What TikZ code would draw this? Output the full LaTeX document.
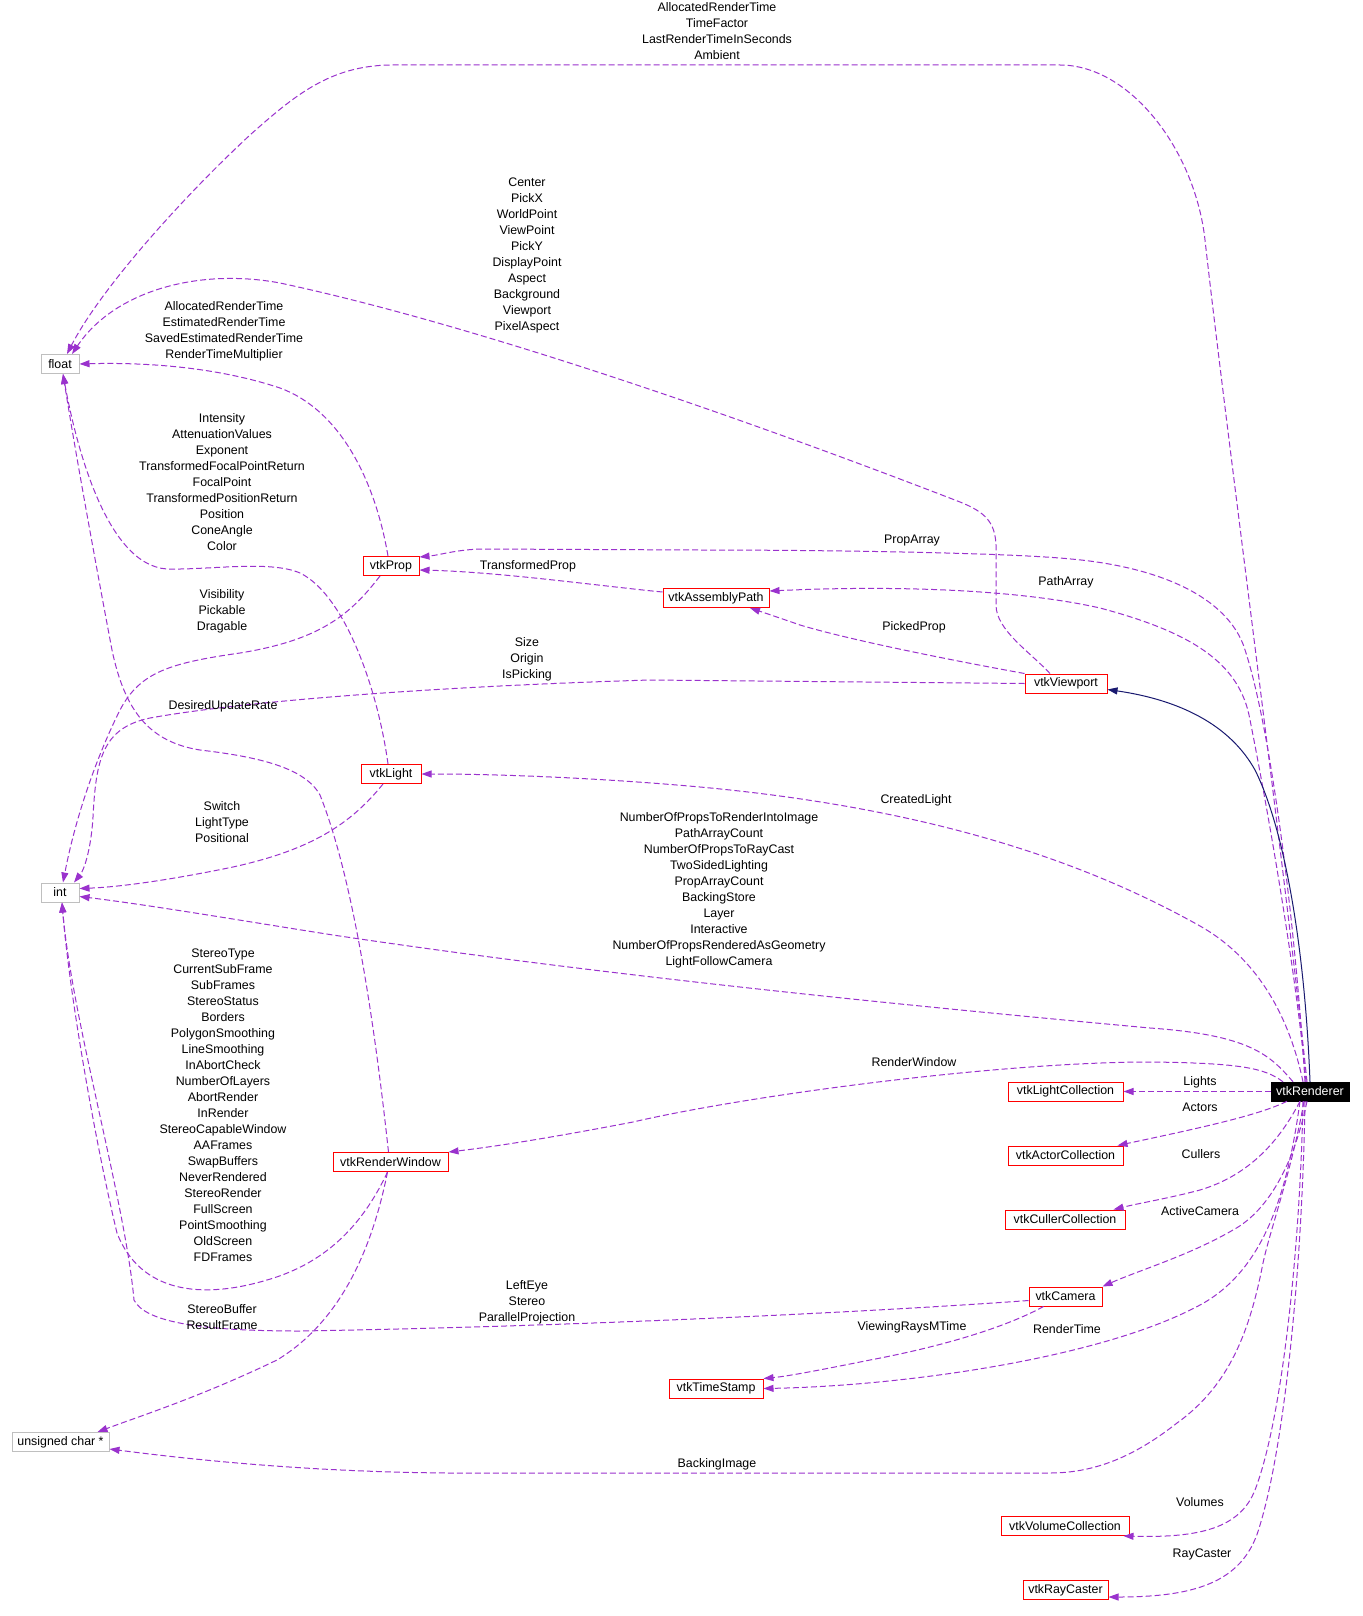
\documentclass[tikz,border=0pt]{standalone}
\usepackage{fontspec}
\setmainfont{Liberation Sans}
\usetikzlibrary{arrows.meta,calc}
\definecolor{edgec}{HTML}{9A32CD}
\definecolor{inhc}{HTML}{191970}
\definecolor{boxred}{HTML}{FF0000}
\definecolor{boxgray}{HTML}{BFBFBF}
\begin{document}
\begin{tikzpicture}[x=1pt,y=-1pt,font=\fontsize{12.4}{16}\selectfont,
  cls/.style={draw=boxred,fill=white,line width=1pt,minimum height=19pt,inner sep=0pt},
  typ/.style={draw=boxgray,fill=white,line width=1pt,minimum height=19pt,inner sep=0pt},
  rend/.style={draw=black,fill=black,text=white,minimum height=19pt,inner sep=0pt},
  lbl/.style={inner sep=0pt,align=center},
  useedge/.style={draw=edgec,line width=1pt,dash pattern=on 6pt off 3pt,-{Triangle[length=10pt,width=7pt]}},
  inhedge/.style={draw=inhc,line width=1pt,-{Triangle[length=10pt,width=7pt]}}]
\useasboundingbox[fill=white] (0,0) rectangle (1362,1616);

% nodes
\node[typ,minimum width=38pt] (fl) at (60,364) {float};
\node[typ,minimum width=38pt] (int) at (60,892.5) {int};
\node[typ,minimum width=97pt] (uc) at (60.5,1442) {unsigned char *};
\node[cls,minimum width=56pt] (P) at (391,566) {vtkProp};
\node[cls,minimum width=106pt] (AP) at (716,598) {vtkAssemblyPath};
\node[cls,minimum width=82pt] (V) at (1066,683.5) {vtkViewport};
\node[cls,minimum width=60pt] (L) at (391,774) {vtkLight};
\node[cls,minimum width=115pt] (RW) at (390.5,1162) {vtkRenderWindow};
\node[cls,minimum width=94pt] (TS) at (716,1388.5) {vtkTimeStamp};
\node[cls,minimum width=73pt] (C) at (1065.5,1296.5) {vtkCamera};
\node[cls,minimum width=115pt] (LC) at (1065.5,1091.5) {vtkLightCollection};
\node[cls,minimum width=115pt] (AC) at (1065.5,1155.5) {vtkActorCollection};
\node[cls,minimum width=120pt] (CC) at (1065,1219.5) {vtkCullerCollection};
\node[cls,minimum width=128pt] (VC) at (1065,1526) {vtkVolumeCollection};
\node[cls,minimum width=85pt] (RC) at (1065.5,1590) {vtkRayCaster};
\node[rend,minimum width=78pt] (R) at (1310,1091.5) {vtkRenderer};

% edges
\draw[useedge] ($(R.north)+(-3,0)$) .. controls (1285,870) and (1225,420) .. (1205,240) .. controls (1195,150) and (1130,65) .. (1060,65) -- (390,65) .. controls (330,66) and (295,95) .. (250,135) .. controls (180,200) and (100,290) .. ($(fl.north)+(7,0)$);
\draw[useedge] ($(V.north)+(-16,0)$) .. controls (1030,652) and (996,630) .. (996,605) -- (996,545) .. controls (995,522) and (985,512) .. (960,502) .. controls (800,440) and (500,330) .. (280,283) .. controls (200,268) and (115,290) .. ($(fl.north)+(12,0)$);
\draw[useedge] ($(P.north)+(-3,0)$) .. controls (375,480) and (340,410) .. (280,388) .. controls (220,368) and (150,362) .. (fl.east);
\draw[useedge] ($(L.north)+(-3,0)$) .. controls (378,690) and (345,595) .. (300,573) .. controls (270,560) and (210,570) .. (167,569) .. controls (105,565) and (75,440) .. ($(fl.south)+(3,0)$);
\draw[useedge] ($(RW.north)+(-2,0)$) .. controls (372,1000) and (350,870) .. (320,795) .. controls (305,768) and (260,757) .. (200,750) .. controls (150,742) and (125,712) .. (112,650) .. controls (95,560) and (75,450) .. ($(fl.south)+(3,0)$);
\draw[useedge] (V.west) -- (650,680) .. controls (450,686) and (250,700) .. (150,718) .. controls (102,728) and (96,760) .. (93,817) .. controls (91,850) and (84,870) .. ($(int.north)+(14,0)$);
\draw[useedge] ($(P.south)+(-11,0)$) .. controls (350,615) and (320,640) .. (240,653) .. controls (170,663) and (140,672) .. (120,710) .. controls (95,760) and (75,820) .. ($(int.north)+(3,0)$);
\draw[useedge] ($(L.south)+(-8,0)$) .. controls (350,825) and (310,850) .. (233,867) .. controls (170,880) and (120,887) .. ($(int.east)+(0,-4)$);
\draw[useedge] ($(R.north)+(-17,0)$) .. controls (1270,1055) and (1250,1035) .. (1150,1028) .. controls (900,1005) and (600,975) .. (333,935) .. controls (250,922) and (150,905) .. ($(int.east)+(0,4)$);
\draw[useedge] ($(RW.south)+(-3,0)$) .. controls (365,1220) and (330,1262) .. (267,1280) .. controls (200,1300) and (140,1292) .. (117,1233) .. controls (97,1150) and (70,1000) .. ($(int.south)+(2,0)$);
\draw[useedge] ($(C.west)+(0,4)$) .. controls (900,1310) and (600,1326) .. (300,1331) .. controls (200,1331) and (145,1322) .. (134,1300) .. controls (125,1200) and (72,1020) .. ($(int.south)+(2,0)$);
\draw[useedge] ($(RW.south)+(-3,0)$) .. controls (372,1250) and (340,1322) .. (277,1360) .. controls (200,1397) and (140,1416) .. ($(uc.north)+(37,0)$);
\draw[useedge] ($(C.south)+(-22,0)$) .. controls (1010,1325) and (950,1345) .. (870,1360) .. controls (830,1368) and (790,1376) .. (TS.north east);
\draw[useedge] ($(R.south)+(-10,0)$) .. controls (1288,1190) and (1265,1270) .. (1200,1305) .. controls (1100,1359) and (900,1386) .. (TS.east);
\draw[useedge] ($(R.south)+(-6,0)$) .. controls (1292,1170) and (1270,1230) .. (1263,1263) .. controls (1250,1330) and (1230,1385) .. (1177,1423) .. controls (1140,1452) and (1100,1473) .. (1050,1473) -- (450,1473) .. controls (300,1472) and (180,1458) .. ($(uc.east)+(0,7)$);
\draw[useedge] ($(R.south)+(-7,0)$) .. controls (1300,1250) and (1282,1420) .. (1255,1490) .. controls (1240,1528) and (1200,1538) .. ($(VC.south east)+(-6,0)$);
\draw[useedge] ($(R.south)+(-5,0)$) .. controls (1302,1280) and (1283,1450) .. (1260,1525) .. controls (1245,1580) and (1200,1597) .. ($(RC.east)+(0,7)$);
\draw[useedge] (R.west) -- (LC.east);
\draw[useedge] ($(R.south)+(-23,0)$) .. controls (1260,1115) and (1200,1128) .. ($(AC.north east)+(-6,0)$);
\draw[useedge] ($(R.south)+(-10,0)$) .. controls (1280,1140) and (1250,1175) .. (1200,1190) .. controls (1170,1198) and (1140,1203) .. ($(CC.north east)+(-12,0)$);
\draw[useedge] ($(R.south)+(-3,0)$) .. controls (1295,1160) and (1270,1210) .. (1233,1230) .. controls (1190,1255) and (1140,1270) .. (C.north east);
\draw[useedge] ($(R.north)+(-27,0)$) .. controls (1265,1068) and (1240,1063) .. (1150,1062) .. controls (1000,1062) and (750,1095) .. (633,1122) .. controls (560,1136) and (500,1146) .. (RW.north east);
\draw[useedge] ($(R.north)+(-7,0)$) .. controls (1290,1020) and (1260,960) .. (1200,926) .. controls (1100,870) and (950,810) .. (700,787) .. controls (600,778) and (500,774) .. (L.east);
\draw[useedge] ($(R.north)+(-5,0)$) .. controls (1295,920) and (1270,720) .. (1243,644) .. controls (1222,592) and (1150,566) .. (1071,559) .. controls (1000,552) and (800,550) .. (700,550) -- (480,549) .. controls (455,550) and (440,555) .. ($(P.north east)+(0,1)$);
\draw[useedge] ($(R.north)+(-4,0)$) .. controls (1296,970) and (1266,800) .. (1250,720) .. controls (1240,662) and (1190,632) .. (1100,608) .. controls (1020,590) and (900,585) .. ($(AP.east)+(0,-7)$);
\draw[inhedge] (R.north) .. controls (1305,950) and (1285,830) .. (1255,770) .. controls (1230,725) and (1180,700) .. ($(V.east)+(0,6)$);
\draw[useedge] ($(AP.west)+(0,-6)$) .. controls (600,586) and (500,572) .. ($(P.east)+(0,4)$);
\draw[useedge] (V.north west) .. controls (950,660) and (850,640) .. (800,625) .. controls (780,618) and (762,612) .. ($(AP.south)+(34,0)$);

% labels
\node[lbl] (l1) at (717,31) {AllocatedRenderTime\\TimeFactor\\LastRenderTimeInSeconds\\Ambient};
\node[lbl] (l2) at (527,255) {Center\\PickX\\WorldPoint\\ViewPoint\\PickY\\DisplayPoint\\Aspect\\Background\\Viewport\\PixelAspect};
\node[lbl] (l3) at (224,331) {AllocatedRenderTime\\EstimatedRenderTime\\SavedEstimatedRenderTime\\RenderTimeMultiplier};
\node[lbl] (l4) at (222,482) {Intensity\\AttenuationValues\\Exponent\\TransformedFocalPointReturn\\FocalPoint\\TransformedPositionReturn\\Position\\ConeAngle\\Color};
\node[lbl] (l5) at (222,611) {Visibility\\Pickable\\Dragable};
\node[lbl] (l6) at (527,659) {Size\\Origin\\IsPicking};
\node[lbl] (l7) at (223,706) {DesiredUpdateRate};
\node[lbl] (l8) at (222,822) {Switch\\LightType\\Positional};
\node[lbl] (l9) at (916,800) {CreatedLight};
\node[lbl] (l10) at (719,890) {NumberOfPropsToRenderIntoImage\\PathArrayCount\\NumberOfPropsToRayCast\\TwoSidedLighting\\PropArrayCount\\BackingStore\\Layer\\Interactive\\NumberOfPropsRenderedAsGeometry\\LightFollowCamera};
\node[lbl] (l11) at (223,1105) {StereoType\\CurrentSubFrame\\SubFrames\\StereoStatus\\Borders\\PolygonSmoothing\\LineSmoothing\\InAbortCheck\\NumberOfLayers\\AbortRender\\InRender\\StereoCapableWindow\\AAFrames\\SwapBuffers\\NeverRendered\\StereoRender\\FullScreen\\PointSmoothing\\OldScreen\\FDFrames};
\node[lbl] (l12) at (222,1317) {StereoBuffer\\ResultFrame};
\node[lbl] (l13) at (527,1302) {LeftEye\\Stereo\\ParallelProjection};
\node[lbl] (l14) at (912,1327) {ViewingRaysMTime};
\node[lbl] (l15) at (1067,1329) {RenderTime};
\node[lbl] (l16) at (717,1464) {BackingImage};
\node[lbl] (l17) at (1200,1502) {Volumes};
\node[lbl] (l18) at (1202,1554) {RayCaster};
\node[lbl] (l19) at (1200,1082) {Lights};
\node[lbl] (l20) at (1200,1107) {Actors};
\node[lbl] (l21) at (1201,1154) {Cullers};
\node[lbl] (l22) at (1200,1211) {ActiveCamera};
\node[lbl] (l23) at (914,1062) {RenderWindow};
\node[lbl] (l24) at (912,541) {PropArray};
\node[lbl] (l25) at (528,566) {TransformedProp};
\node[lbl] (l26) at (1066,582) {PathArray};
\node[lbl] (l27) at (914,627) {PickedProp};
\end{tikzpicture}
\end{document}
